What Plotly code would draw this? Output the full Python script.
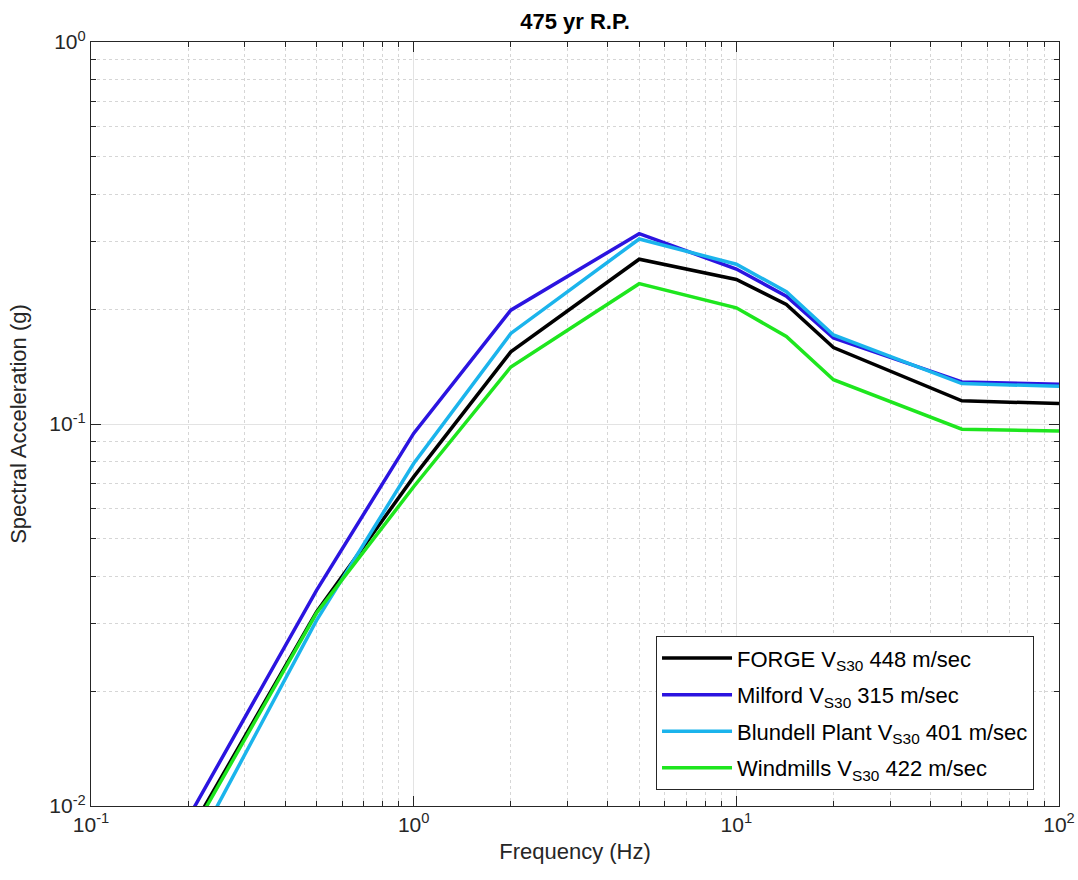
import plotly.graph_objects as go

# Uniform hazard spectra, 475-year return period
freq_hz = [0.2, 0.5, 1.0, 2.0, 5.0, 10.0, 14.29, 20.0, 50.0, 100.0]

forge = [0.0084, 0.0322, 0.0727, 0.1545, 0.270, 0.239, 0.2055, 0.1585, 0.1150, 0.1131]
milford = [0.0093, 0.0367, 0.0945, 0.1986, 0.315, 0.2545, 0.2160, 0.1680, 0.1289, 0.1270]
blundell = [0.0072, 0.0306, 0.0788, 0.1726, 0.305, 0.2620, 0.2220, 0.1710, 0.1276, 0.1255]
windmills = [0.0082, 0.0320, 0.0685, 0.1410, 0.233, 0.2015, 0.1695, 0.1306, 0.0969, 0.0958]

series_names = [
    "FORGE V<sub>S30</sub> 448 m/sec",
    "Milford V<sub>S30</sub> 315 m/sec",
    "Blundell Plant V<sub>S30</sub> 401 m/sec",
    "Windmills V<sub>S30</sub> 422 m/sec",
]
series_values = [forge, milford, blundell, windmills]
series_colors = ["#000000", "#2b14e0", "#1bb4ec", "#1ee61e"]

x_tickvals = [0.1, 1, 10, 100]
x_ticktext = ["10<sup>-1</sup>", "10<sup>0</sup>", "10<sup>1</sup>", "10<sup>2</sup>"]
y_tickvals = [0.01, 0.1, 1]
y_ticktext = ["10<sup>-2</sup>", "10<sup>-1</sup>", "10<sup>0</sup>"]

FONT = "Liberation Sans, Arial, sans-serif"
AXIS_COLOR = "#262626"


def minor_positions(decades):
    # 2..9 within each decade starting at 10**d
    return [m * 10.0 ** d for d in decades for m in range(2, 10)]


fig = go.Figure()
for i, (name, vals, color) in enumerate(zip(series_names, series_values, series_colors)):
    fig.add_trace(go.Scatter(
        x=freq_hz, y=vals, mode="lines", name=name,
        legendgroup=f"site{i}",
        line=dict(color=color, width=3.5),
    ))


def axis_style(minor_vals):
    return dict(
        type="log",
        showline=True, linecolor=AXIS_COLOR, linewidth=1.2,
        mirror="allticks",
        ticks="inside", ticklen=10, tickwidth=1, tickcolor=AXIS_COLOR,
        showgrid=True, gridcolor="#e3e3e3", gridwidth=1,
        zeroline=False,
        tickfont=dict(family=FONT, size=21, color=AXIS_COLOR),
        minor=dict(
            tickvals=minor_vals,
            ticks="inside", ticklen=5, tickcolor=AXIS_COLOR, tickwidth=1,
            showgrid=True, gridcolor="#d6d6d6", griddash="dot", gridwidth=1,
        ),
    )


fig.update_xaxes(
    **axis_style(minor_positions([-1, 0, 1])),
    range=[-1, 2],
    tickvals=x_tickvals, ticktext=x_ticktext,
    title=dict(text="Frequency (Hz)", font=dict(family=FONT, size=22, color=AXIS_COLOR), standoff=8),
)
fig.update_yaxes(
    **axis_style(minor_positions([-2, -1])),
    range=[-2, 0],
    tickvals=y_tickvals, ticktext=y_ticktext,
    title=dict(text="Spectral Acceleration (g)", font=dict(family=FONT, size=22, color=AXIS_COLOR), standoff=16),
)

fig.update_layout(
    width=1078, height=880,
    margin=dict(l=91, r=19, t=42, b=74, autoexpand=False),
    paper_bgcolor="white", plot_bgcolor="white",
    title=dict(
        text="<b>475 yr R.P.</b>",
        font=dict(family=FONT, size=22, color="#000000"),
        x=0.5, xref="paper", xanchor="center",
        y=1 - 21 / 880, yref="container", yanchor="middle",
    ),
    legend=dict(
        x=0.5837, y=0.2222, xanchor="left", yanchor="top",
        bgcolor="white", bordercolor=AXIS_COLOR, borderwidth=1,
        font=dict(family=FONT, size=22, color="#000000"),
        itemwidth=70, tracegroupgap=5,
    ),
    font=dict(family=FONT),
)

fig.write_html("out.html")
